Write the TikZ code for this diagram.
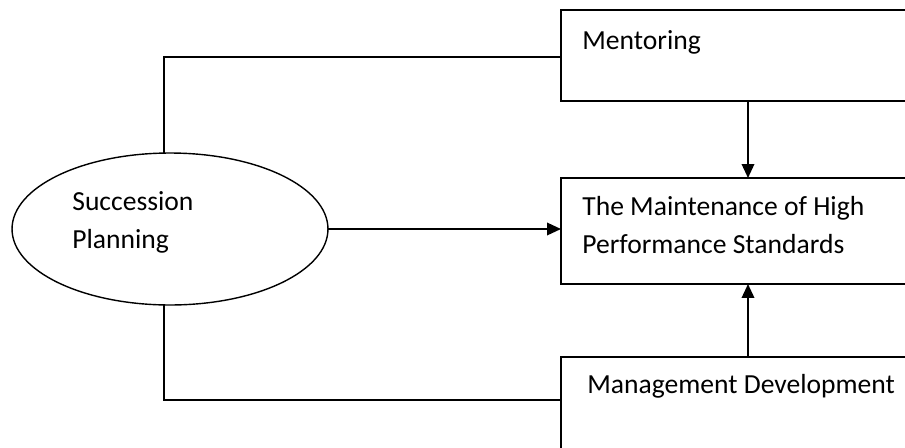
\documentclass[tikz,border=0pt]{standalone}
\usepackage{fontspec}
\setmainfont{Carlito}
\usetikzlibrary{shapes.geometric,arrows.meta}
\tikzset{
    box/.style={draw, line width=1.1pt, rectangle, inner sep=0pt, outer sep=0pt,
        minimum width=7.2cm, anchor=north west},
    txt/.style={inner sep=0pt, anchor=base west, align=left},
    conn/.style={line width=1.1pt},
    >={Triangle[length=0.28cm, width=0.25cm]}
}
\begin{document}
\begin{tikzpicture}[x=0.02cm, y=-0.02cm,
    every node/.style={font=\fontsize{15.7}{21.5}\selectfont}]
    \clip (0,0) rectangle (905,447);
    \node[draw, ellipse, line width=0.8pt, inner sep=0pt, outer sep=0pt,
        minimum width=6.32cm, minimum height=3.04cm] (sp) at (170,229) {};
    \node[txt] (sptxt) at (72,248) {Succession\\Planning};

    \node[box, minimum height=1.82cm] (ment) at (561,10) {};
    \node[txt] (menttxt) at (582,49.5) {Mentoring};
    \node[box, minimum height=2.12cm] (hps) at (561,178) {};
    \node[txt] (hpstxt) at (582,253) {The Maintenance of High\\Performance Standards};
    \node[box, minimum height=2.12cm] (mdev) at (561,357) {};
    \node[txt] (mdevtxt) at (587,393) {Management Development};

    \coordinate (lx) at (164,0);
    \coordinate (ax) at (748,0);
    \coordinate (ty) at (0,57);
    \coordinate (by) at (0,400);

    \draw[conn] (sp.north -| lx) -- (lx |- ty) -- (ment.west |- ty);
    \draw[conn] (sp.south -| lx) -- (lx |- by) -- (mdev.west |- by);
    \draw[conn, ->] (sp.east) -- (hps.west |- sp.east);
    \draw[conn, ->] (ment.south -| ax) -- (hps.north -| ax);
    \draw[conn, ->] (mdev.north -| ax) -- (hps.south -| ax);
\end{tikzpicture}
\end{document}
